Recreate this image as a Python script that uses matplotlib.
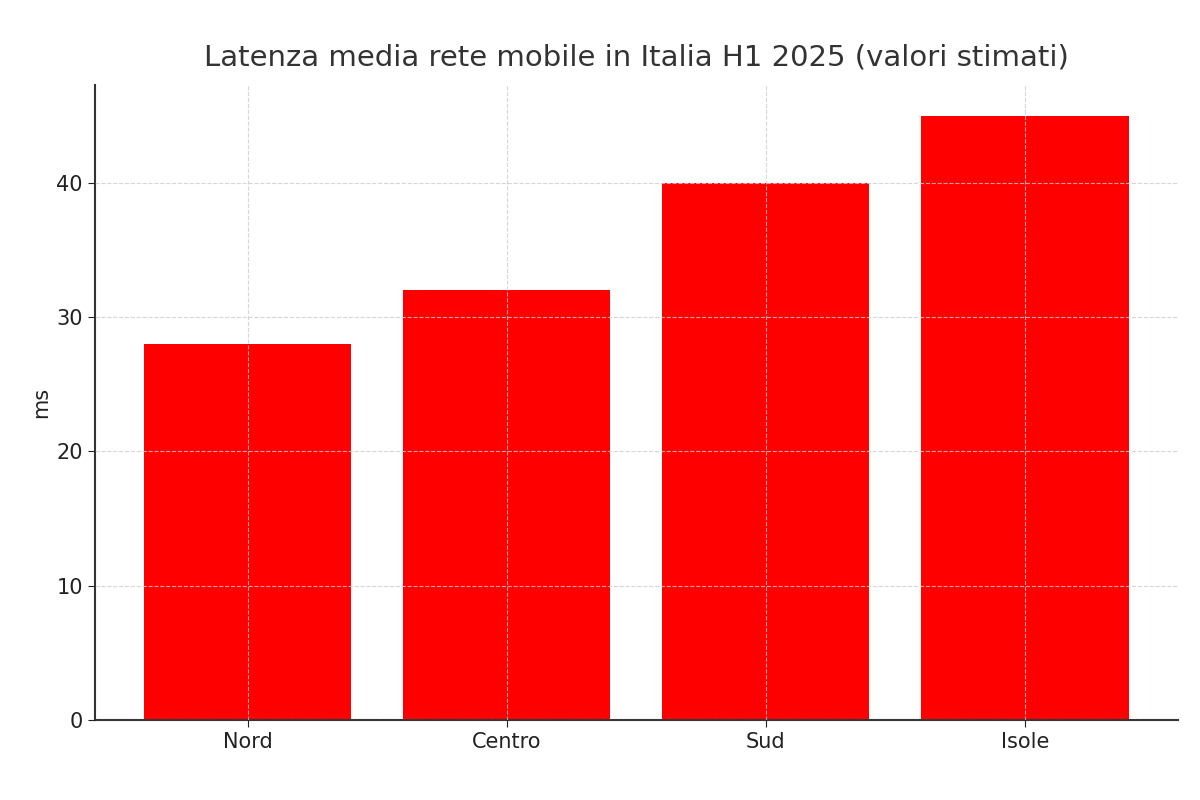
import matplotlib
matplotlib.use("Agg")
import matplotlib.pyplot as plt

categories = ["Nord", "Centro", "Sud", "Isole"]
values = [28, 32, 40, 45]

fig = plt.figure(figsize=(12, 8), dpi=100)
ax = fig.add_axes([0.079, 0.1, 0.9025, 0.794])
ax.bar(categories, values, width=0.8, color="#ff0000", zorder=2)
ax.set_ylim(0, 47.3)
ax.set_xlim(-0.59, 3.59)
ax.grid(True, linestyle="--", color="#cccccc", linewidth=0.8, alpha=0.8, zorder=3)
ax.set_axisbelow(False)
for s in ["top", "right"]:
    ax.spines[s].set_visible(False)
for s in ["left", "bottom"]:
    ax.spines[s].set_color("#333333")
    ax.spines[s].set_linewidth(1.5)
ax.set_yticks([0, 10, 20, 30, 40])
ax.tick_params(labelsize=15, colors="#222222", length=5)
ax.set_ylabel("ms", fontsize=15, color="#222222")
ax.set_title("Latenza media rete mobile in Italia H1 2025 (valori stimati)", fontsize=21, color="#333333", pad=14)
fig.savefig("out.png")
